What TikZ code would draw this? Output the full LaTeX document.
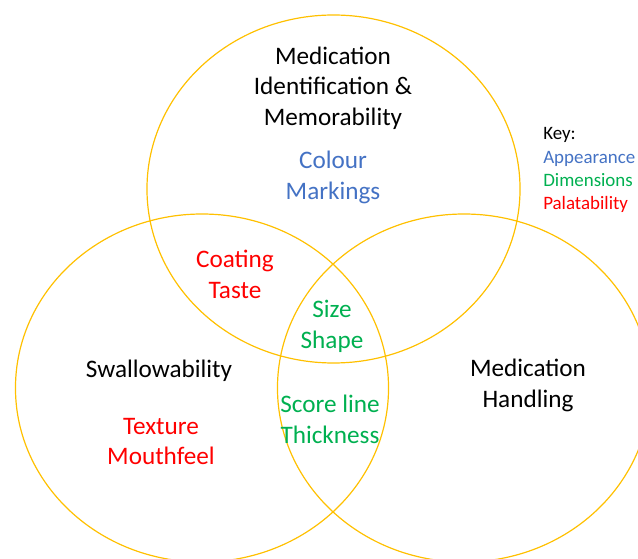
\documentclass[tikz,border=0pt]{standalone}
\usepackage{fontspec}
\setmainfont{Carlito}
\definecolor{ring}{HTML}{FFC000}
\definecolor{looks}{HTML}{4472C4}
\definecolor{dims}{HTML}{00B050}
\definecolor{taste}{HTML}{FF0000}
\begin{document}
\begin{tikzpicture}[x=0.75pt, y=-0.75pt,
        set/.style={align=center, inner sep=0pt, font=\fontsize{18.9}{22.9}\selectfont},
        keylist/.style={align=left, anchor=west, inner sep=0pt, font=\fontsize{14.2}{17.3}\selectfont},
        venn/.style={draw=ring, line width=0.9pt, x radius=139.9pt, y radius=130.5pt}]

        \useasboundingbox (0, 0) rectangle (638, 559);
        \clip (0, 0) rectangle (638, 559);

        \path[venn]
            (333.5, 189) ellipse []
            (202, 388)   ellipse []
            (464, 388)   ellipse []
        ;

        \draw
            (333, 88)    node [set] (memo) {Medication\\Identification \&\\Memorability}
            (333, 177.5) node [set, text=looks] (colour) {Colour\\Markings}
            (235, 274.5) node [set, text=taste] (coating) {Coating\\Taste}
            (332, 326.5) node [set, text=dims] (size) {Size\\Shape}
            (159, 370.5) node [set] (swallow) {Swallowability}
            (161, 441.5) node [set, text=taste] (texture) {Texture\\Mouthfeel}
            (330, 419.5) node [set, text=dims] (score) {Score line\\Thickness}
            (528, 385.5) node [set] (handling) {Medication\\Handling}
            (543, 170)   node [keylist] (key) {Key:\\\textcolor{looks}{Appearance}\\\textcolor{dims}{Dimensions}\\\textcolor{taste}{Palatability}}
        ;

\end{tikzpicture}
\end{document}
